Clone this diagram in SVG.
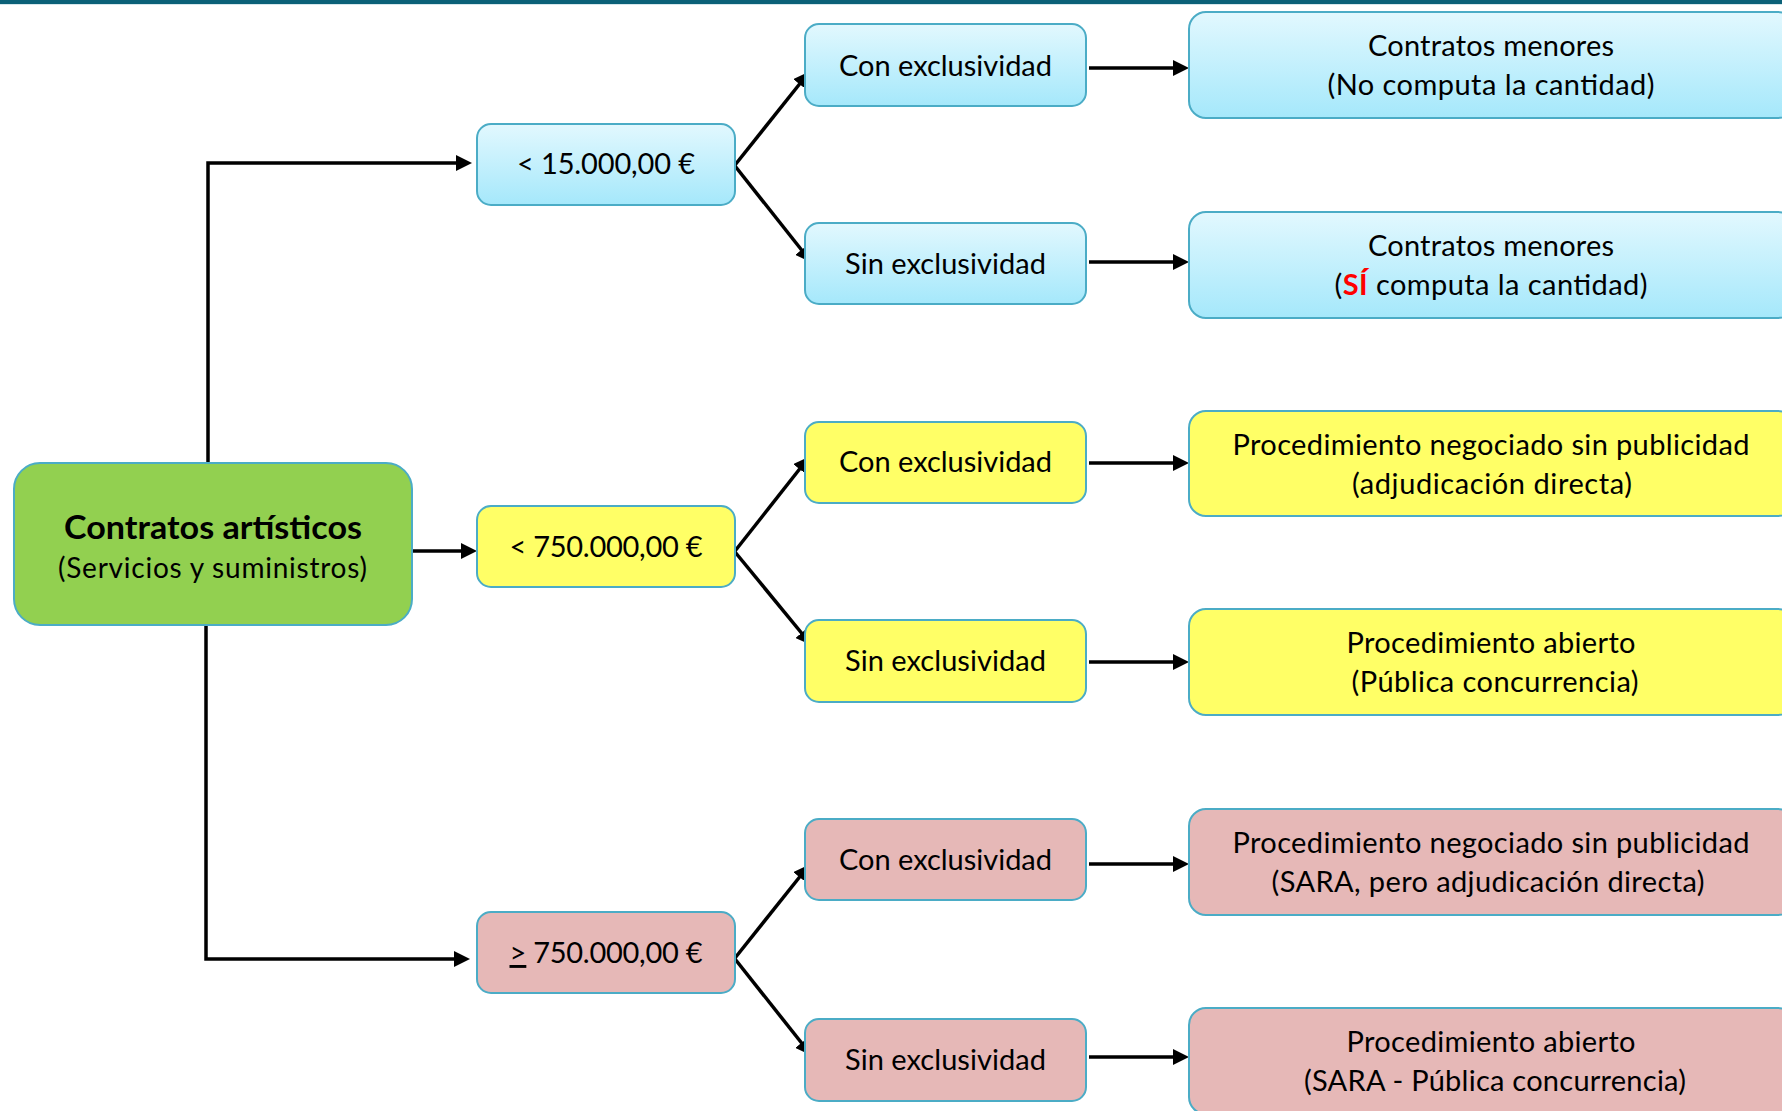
<svg xmlns="http://www.w3.org/2000/svg" width="1782" height="1111" viewBox="0 0 1782 1111">
<style>
  .t { font-family: Lato, "Open Sans", sans-serif; font-size: 29px; fill: #000; text-anchor: middle; }
  .title { font-size: 33px; font-weight: bold; }
  .sub { font-size: 28px; }
  .red { fill: #ff0000; font-weight: bold; }
  .blue { fill: url(#gBlue); stroke: #4bacc6; stroke-width: 2; }
  .yel { fill: #ffff66; stroke: #4bacc6; stroke-width: 2; }
  .pink { fill: #e6b8b7; stroke: #4bacc6; stroke-width: 2; }
  .green { fill: #92d050; stroke: #4bacc6; stroke-width: 2; }
  .c { fill: none; stroke: #000; stroke-width: 3.5; marker-end: url(#arr); }
</style>
<defs>
  <linearGradient id="gBlue" x1="0" y1="0" x2="0" y2="1">
    <stop offset="0" stop-color="#e2f8fe"/>
    <stop offset="1" stop-color="#a5e8fb"/>
  </linearGradient>
  <marker id="arr" markerUnits="userSpaceOnUse" viewBox="0 0 16 16" markerWidth="16" markerHeight="16" refX="4" refY="8" orient="auto">
    <path d="M0,0 L16,8 L0,16 z" fill="#000"/>
  </marker>
</defs>
<rect x="0" y="0" width="1782" height="1111" fill="#fff"/>
<rect x="0" y="0" width="1782" height="4" fill="#0b6178"/>
<rect x="0" y="4" width="1782" height="1" fill="#d6e7ec"/>

<g id="connectors">
  <path class="c" d="M208,463 V163 H460"/>
  <path class="c" d="M411,551 H465"/>
  <path class="c" d="M206,625 V959 H458"/>
  <path class="c" d="M735,165 L802,81"/>
  <path class="c" d="M735,166 L804,253"/>
  <path class="c" d="M735,551 L802,466"/>
  <path class="c" d="M735,552 L804,636"/>
  <path class="c" d="M735,958 L802,874"/>
  <path class="c" d="M735,959 L804,1046"/>
  <path class="c" d="M1089,68 H1177"/>
  <path class="c" d="M1089,262 H1177"/>
  <path class="c" d="M1089,463 H1177"/>
  <path class="c" d="M1089,662 H1177"/>
  <path class="c" d="M1089,864 H1177"/>
  <path class="c" d="M1089,1057 H1177"/>
</g>

<g id="root">
  <rect class="green" x="14" y="463" width="398" height="162" rx="26"/>
  <text class="t title" x="213" y="539" textLength="298" lengthAdjust="spacingAndGlyphs">Contratos artísticos</text>
  <text class="t sub" x="212.5" y="578" textLength="309">(Servicios y suministros)</text>
</g>

<g id="lt15000">
  <rect class="blue" x="477" y="124" width="258" height="81" rx="14"/>
  <text class="t" x="606" y="174" textLength="178">&lt; 15.000,00 €</text>
</g>
<g id="lt750000">
  <rect class="yel" x="477" y="506" width="258" height="81" rx="14"/>
  <text class="t" x="606" y="557" textLength="193">&lt; 750.000,00 €</text>
</g>
<g id="ge750000">
  <rect class="pink" x="477" y="912" width="258" height="81" rx="14"/>
  <text class="t" x="606" y="963" textLength="193"><tspan text-decoration="underline">&gt;</tspan> 750.000,00 €</text>
</g>

<g id="con1">
  <rect class="blue" x="805" y="24" width="281" height="82" rx="14"/>
  <text class="t" x="945.5" y="76" textLength="213">Con exclusividad</text>
</g>
<g id="sin1">
  <rect class="blue" x="805" y="223" width="281" height="81" rx="14"/>
  <text class="t" x="945.5" y="274" textLength="201">Sin exclusividad</text>
</g>
<g id="con2">
  <rect class="yel" x="805" y="422" width="281" height="81" rx="14"/>
  <text class="t" x="945.5" y="472" textLength="213">Con exclusividad</text>
</g>
<g id="sin2">
  <rect class="yel" x="805" y="620" width="281" height="82" rx="14"/>
  <text class="t" x="945.5" y="671" textLength="201">Sin exclusividad</text>
</g>
<g id="con3">
  <rect class="pink" x="805" y="819" width="281" height="81" rx="14"/>
  <text class="t" x="945.5" y="870" textLength="213">Con exclusividad</text>
</g>
<g id="sin3">
  <rect class="pink" x="805" y="1019" width="281" height="82" rx="14"/>
  <text class="t" x="945.5" y="1070" textLength="201">Sin exclusividad</text>
</g>

<g id="res1">
  <rect class="blue" x="1189" y="12" width="606" height="106" rx="17"/>
  <text class="t" x="1491" y="56" textLength="246">Contratos menores</text>
  <text class="t" x="1491" y="95" textLength="327">(No computa la cantidad)</text>
</g>
<g id="res2">
  <rect class="blue" x="1189" y="212" width="606" height="106" rx="17"/>
  <text class="t" x="1491" y="256" textLength="246">Contratos menores</text>
  <text class="t" x="1491" y="295" textLength="313">(<tspan class="red">SÍ</tspan> computa la cantidad)</text>
</g>
<g id="res3">
  <rect class="yel" x="1189" y="411" width="606" height="105" rx="17"/>
  <text class="t" x="1491" y="455" textLength="517">Procedimiento negociado sin publicidad</text>
  <text class="t" x="1492" y="494" textLength="280">(adjudicación directa)</text>
</g>
<g id="res4">
  <rect class="yel" x="1189" y="609" width="606" height="106" rx="17"/>
  <text class="t" x="1491" y="653" textLength="289">Procedimiento abierto</text>
  <text class="t" x="1495" y="692" textLength="287">(Pública concurrencia)</text>
</g>
<g id="res5">
  <rect class="pink" x="1189" y="809" width="606" height="106" rx="17"/>
  <text class="t" x="1491" y="853" textLength="517">Procedimiento negociado sin publicidad</text>
  <text class="t" x="1488" y="892" textLength="433">(SARA, pero adjudicación directa)</text>
</g>
<g id="res6">
  <rect class="pink" x="1189" y="1008" width="606" height="106" rx="17"/>
  <text class="t" x="1491" y="1052" textLength="289">Procedimiento abierto</text>
  <text class="t" x="1495" y="1091" textLength="382">(SARA - Pública concurrencia)</text>
</g>
</svg>
